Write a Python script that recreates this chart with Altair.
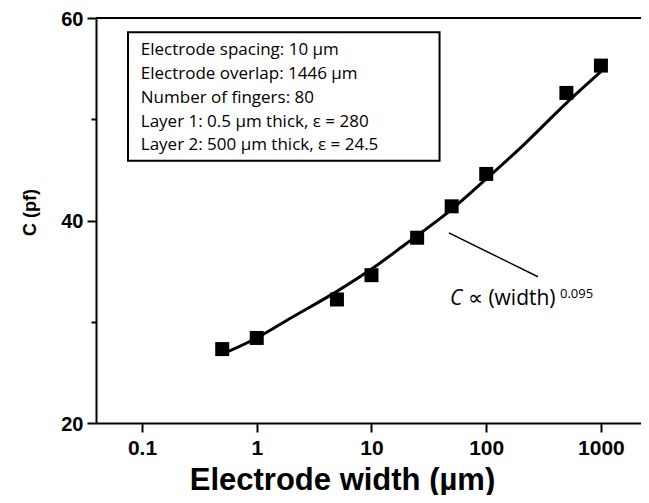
import altair as alt
import pandas as pd

# measured data points
width_um = [0.5, 1, 5, 10, 25, 50, 100, 500, 1000]
cap_pf = [27.3, 28.4, 32.2, 34.6, 38.3, 41.4, 44.6, 52.6, 55.3]

# fitted curve
fit_x = [0.5, 1, 2, 5, 10, 20, 50, 100, 200, 500, 1000]
fit_y = [26.8, 28.4, 30.4, 33.0, 35.2, 37.7, 41.1, 44.1, 47.2, 51.6, 54.7]

# axes
x_domain = [0.0397, 2235]
y_domain = [20, 60]
x_ticks = [0.1, 1, 10, 100, 1000]
y_ticks = [20, 30, 40, 50, 60]

# info box (data coordinates)
box_lines = [
    "Electrode spacing: 10 \u00b5m",
    "Electrode overlap: 1446 \u00b5m",
    "Number of fingers: 80",
    "Layer 1: 0.5 \u00b5m thick, \u03b5 = 280",
    "Layer 2: 500 \u00b5m thick, \u03b5 = 24.5",
]
box_line_y = [56.34, 53.97, 51.63, 49.26, 46.96]
box_text_x = 0.0975
box_x = [0.0755, 39.2]
box_y = [45.9, 58.59]

# annotation
leader_x = [47.3, 282.5]
leader_y = [38.78, 34.44]
ann_c = {"x": 48.3, "y": 31.64, "t": "C"}
ann_rest = {"x": 69.3, "y": 31.64, "t": "\u221d (width)"}
ann_exp = {"x": 440, "y": 32.33, "t": "0.095"}

BOLD = "Liberation Sans"
HAND = "Open Sans"

points_df = pd.DataFrame({"w": width_um, "c": cap_pf})
fit_df = pd.DataFrame({"w": fit_x, "c": fit_y})
box_df = pd.DataFrame({"x": [box_x[0]], "x2": [box_x[1]], "y": [box_y[0]], "y2": [box_y[1]]})
lines_df = pd.DataFrame({"x": [box_text_x] * len(box_lines), "y": box_line_y, "t": box_lines})
leader_df = pd.DataFrame({"x": leader_x, "y": leader_y})
top_df = pd.DataFrame({"x": [x_domain[0]], "x2": [x_domain[1]], "y": [y_domain[1]]})

xs = alt.Scale(type="log", domain=x_domain, nice=False)
ys = alt.Scale(domain=y_domain, nice=False, zero=False)

x_axis = alt.Axis(
    values=x_ticks, format="~g", grid=False,
    labelFont=BOLD, labelFontWeight="bold", labelFontSize=21, labelColor="black",
    labelPadding=5, labelFlush=False,
    tickColor="black", tickSize=9, tickWidth=2,
    domainColor="black", domainWidth=2,
    title="Electrode width (\u00b5m)", titleFont=BOLD, titleFontSize=31,
    titleFontWeight="bold", titleColor="black",
    titleX=246, titleY=66, titleBaseline="alphabetic", titleAlign="center",
)
y_axis = alt.Axis(
    values=y_ticks, grid=False,
    labelExpr="datum.value % 20 == 0 ? datum.label : ''",
    labelFont=BOLD, labelFontWeight="bold", labelFontSize=20, labelColor="black",
    labelPadding=4, labelOffset=1,
    tickColor="black", tickWidth=2,
    tickSize={"condition": {"test": "datum.value % 20 != 0", "value": 5}, "value": 9},
    domainColor="black", domainWidth=2,
    title="C (pf)", titleFont=BOLD, titleFontSize=18, titleFontWeight="bold",
    titleColor="black", titleX=-61, titleY=194, titleBaseline="alphabetic",
    titleAlign="center",
)

base_x = alt.X("w:Q", scale=xs, axis=x_axis)
base_y = alt.Y("c:Q", scale=ys, axis=y_axis)

fit = alt.Chart(fit_df).mark_line(color="black", strokeWidth=3, interpolate="monotone").encode(
    x=base_x, y=base_y
)
pts = alt.Chart(points_df).mark_square(color="black", size=196, opacity=1, filled=True).encode(
    x="w:Q", y="c:Q"
)
top = alt.Chart(top_df).mark_rule(color="black", strokeWidth=2).encode(
    x="x:Q", x2="x2:Q", y="y:Q"
)
box = alt.Chart(box_df).mark_rect(fill="white", stroke="black", strokeWidth=2).encode(
    x="x:Q", x2="x2:Q", y="y:Q", y2="y2:Q"
)
txt = alt.Chart(lines_df).mark_text(
    align="left", baseline="alphabetic", font=HAND, fontSize=17, color="black"
).encode(x="x:Q", y="y:Q", text="t:N")
leader = alt.Chart(leader_df).mark_line(color="black", strokeWidth=1.5).encode(x="x:Q", y="y:Q")
a1 = alt.Chart(pd.DataFrame([ann_c])).mark_text(
    align="left", baseline="alphabetic", font=HAND, fontSize=21, fontStyle="italic", color="black"
).encode(x="x:Q", y="y:Q", text="t:N")
a2 = alt.Chart(pd.DataFrame([ann_rest])).mark_text(
    align="left", baseline="alphabetic", font=HAND, fontSize=21, color="black"
).encode(x="x:Q", y="y:Q", text="t:N")
a3 = alt.Chart(pd.DataFrame([ann_exp])).mark_text(
    align="left", baseline="alphabetic", font=HAND, fontSize=13, color="black"
).encode(x="x:Q", y="y:Q", text="t:N")

chart = alt.layer(fit, top, box, txt, leader, a1, a2, a3, pts).properties(
    width=545, height=405,
    padding={"left": 88, "top": 10, "right": 0, "bottom": 72},
    autosize=alt.AutoSizeParams(type="none"),
    background="white",
).configure_view(stroke=None)

chart.save("out.html", embed_options={"renderer": "svg", "actions": False})
